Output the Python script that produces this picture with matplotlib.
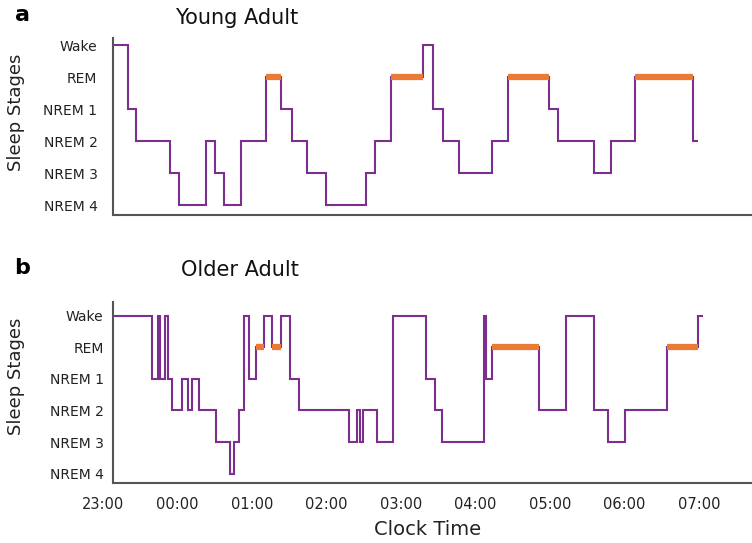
import numpy as np
import matplotlib
matplotlib.use("Agg")
import matplotlib.pyplot as plt

plt.rcParams['font.family'] = ['DejaVu Sans']

stage_names = ["NREM 4", "NREM 3", "NREM 2", "NREM 1", "REM", "Wake"]
level = {"N4": 0, "N3": 1, "N2": 2, "N1": 3, "REM": 4, "W": 5}

# minutes after 23:00 where the stage changes
young_edges = [8, 20.1, 26.8, 54.2, 61.7, 83.2, 90.6, 97.7, 111.6, 131.5,
               143.6, 152.1, 164.2, 179.8, 212.0, 219.4, 232.3, 257.6, 266.1,
               273.7, 286.6, 313.4, 326.5, 359.3, 366.7, 395.3, 409.2, 428.5,
               475.4, 479.5]
young_stages = ["W", "N1", "N2", "N3", "N4", "N2", "N3", "N4", "N2", "REM",
                "N1", "N2", "N3", "N4", "N3", "N2", "REM", "W", "N1", "N2",
                "N3", "N2", "REM", "N1", "N2", "N3", "N2", "REM", "N2"]

older_edges = [8.0, 39.4, 44.3, 46.1, 50.1, 52.8, 56.0, 64.1, 68.9, 71.6,
               77.8, 91.2, 102.5, 105.9, 109.9, 113.7, 117.7, 123.2, 130.1,
               136.5, 143.5, 150.8, 158.3, 198.5, 204.5, 207.2, 209.3, 221.1,
               233.5, 260.3, 267.5, 273.4, 306.9, 308.5, 313.1, 351.5, 373.0,
               395.5, 406.5, 420.5, 454.0, 479.5, 483.0]
older_stages = ["W", "N1", "W", "N1", "W", "N1", "N2", "N1", "N2", "N1",
                "N2", "N3", "N4", "N3", "N2", "W", "N1", "REM", "W", "REM",
                "W", "N1", "N2", "N3", "N2", "N3", "N2", "N3", "W", "N1",
                "N2", "N3", "W", "N1", "REM", "N2", "W", "N2", "N3", "N2",
                "REM", "W"]

tick_minutes = [0, 60, 120, 180, 240, 300, 360, 420, 480]
tick_labels = ["23:00", "00:00", "01:00", "02:00", "03:00", "04:00",
               "05:00", "06:00", "07:00"]

purple = "#7d2f8f"
orange = "#ea7a35"
spine_col = "#555555"
text_col = "#222222"

fig = plt.figure(figsize=(7.52, 5.43), dpi=100)
ax1 = fig.add_axes([0.1366, 0.604, 0.8634, 0.326])
ax2 = fig.add_axes([0.1366, 0.1105, 0.8634, 0.3333])


def hypnogram(ax, edges, stages, ylim, pad):
    vals = [level[s] for s in stages]
    ax.stairs(vals, edges, baseline=None, color=purple, lw=1.5, zorder=2)
    for i, s in enumerate(stages):
        if s == "REM":
            ax.hlines(level[s], edges[i], edges[i + 1], color=orange,
                      lw=4.5, zorder=3)
    ax.set_xlim(0, 522.7)
    ax.set_ylim(*ylim)
    ax.set_yticks(range(6))
    ax.set_yticklabels(stage_names, fontsize=10)
    for sp in ["top", "right"]:
        ax.spines[sp].set_visible(False)
    ax.spines["left"].set_position(("data", 8))
    ax.spines["bottom"].set_bounds(8, 522.7)
    for sp in ["left", "bottom"]:
        ax.spines[sp].set_color(spine_col)
        ax.spines[sp].set_linewidth(1.5)
    ax.tick_params(axis="y", length=0, pad=pad, labelcolor=text_col)
    ax.tick_params(axis="x", length=0)
    ax.set_ylabel("Sleep Stages", fontsize=13, color=text_col)


hypnogram(ax1, young_edges, young_stages, (-0.31, 5.22), 11)
ax1.set_xticks([])
ax1.yaxis.set_label_coords(-0.120, 0.582)

hypnogram(ax2, older_edges, older_stages, (-0.30, 5.44), 6.5)
ax2.set_xticks(tick_minutes)
ax2.set_xticklabels(tick_labels, fontsize=10.5, color=text_col)
ax2.tick_params(axis="x", pad=10)
ax2.yaxis.set_label_coords(-0.120, 0.591)
ax2.set_xlabel("Clock Time", fontsize=14, color=text_col, labelpad=6)

fig.text(237 / 752, 1 - 18 / 543, "Young Adult", fontsize=15,
         ha="center", va="center", color="#111111")
fig.text(240 / 752, 1 - 270 / 543, "Older Adult", fontsize=15,
         ha="center", va="center", color="#111111")
fig.text(22 / 752, 1 - 15 / 543, "a", fontsize=16, fontweight="bold",
         ha="center", va="center")
fig.text(22 / 752, 1 - 268 / 543, "b", fontsize=16, fontweight="bold",
         ha="center", va="center")

fig.savefig("out.png", dpi=100)
